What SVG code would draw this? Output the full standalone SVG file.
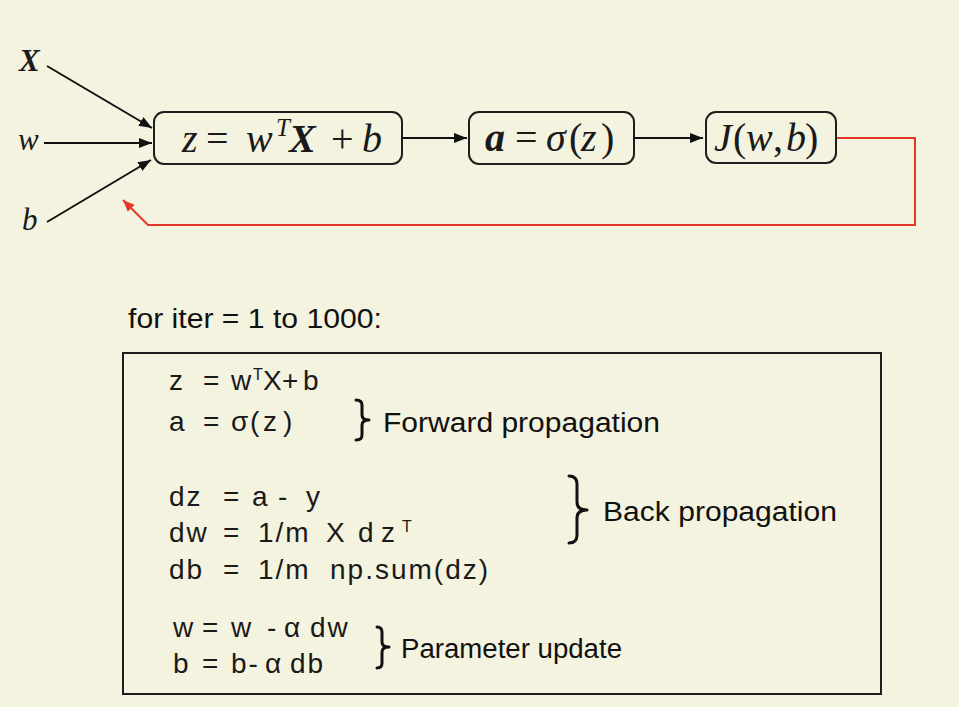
<svg xmlns="http://www.w3.org/2000/svg" width="959" height="707" viewBox="0 0 959 707">
<style>
.bg{fill:#f4f3df}
.box{fill:none;stroke:#1e1e1e;stroke-width:2}
.ln{fill:none;stroke:#111;stroke-width:2}
.red{fill:none;stroke:#e5372a;stroke-width:2}
.math{font-family:"Liberation Serif","Times New Roman",serif;font-style:italic;font-size:40px;fill:#1a1a1a}
.lbl{font-family:"Liberation Serif","Times New Roman",serif;font-style:italic;font-size:31px;fill:#1a1a1a}
.up{font-style:normal}
.bd{font-weight:bold}
.code{font-family:"Liberation Sans",Arial,sans-serif;font-size:28px;letter-spacing:2px;fill:#1a1a1a}
.sup{font-size:16px;letter-spacing:0}
.txt{font-family:"Liberation Sans",Arial,sans-serif;font-size:27px;fill:#111}
.brace{fill:none;stroke:#111;stroke-width:3;stroke-linecap:round;stroke-linejoin:round}
</style>
<defs>
<marker id="ah" markerUnits="userSpaceOnUse" markerWidth="14" markerHeight="12" refX="13" refY="5" orient="auto">
<path d="M0,0 L13,5 L0,10 z" fill="#111"/>
</marker>
<marker id="ahr" markerUnits="userSpaceOnUse" markerWidth="14" markerHeight="12" refX="12" refY="5" orient="auto">
<path d="M0,0 L12,5 L0,10 z" fill="#e5372a"/>
</marker>
</defs>
<rect class="bg" x="0" y="0" width="959" height="707"/>

<g id="connectors">
<line class="ln" x1="47" y1="66" x2="152" y2="128" marker-end="url(#ah)"/>
<line class="ln" x1="44" y1="143" x2="152" y2="143" marker-end="url(#ah)"/>
<line class="ln" x1="47" y1="222" x2="151" y2="160" marker-end="url(#ah)"/>
<line class="ln" x1="402" y1="138" x2="467" y2="138" marker-end="url(#ah)"/>
<line class="ln" x1="634" y1="138" x2="703" y2="138" marker-end="url(#ah)"/>
<path class="red" d="M836,138 H915 V225 H148 L123,200" marker-end="url(#ahr)"/>
</g>

<g id="input-X"><text class="lbl bd" x="19" y="71">X</text></g>
<g id="input-w"><text class="lbl" x="18" y="150">w</text></g>
<g id="input-b"><text class="lbl" x="22" y="230">b</text></g>

<g id="node-z">
<rect class="box" x="154" y="112" width="248" height="52" rx="10"/>
<text class="math"><tspan x="182" y="152">z</tspan><tspan class="up" x="206" y="152">=</tspan><tspan x="246" y="152">w</tspan><tspan x="276" y="136" font-size="25">T</tspan><tspan class="bd" x="289" y="152">X</tspan><tspan class="up" x="331" y="152">+</tspan><tspan x="362" y="152">b</tspan></text>
</g>

<g id="node-a">
<rect class="box" x="469" y="112" width="165" height="52" rx="10"/>
<text class="math"><tspan class="bd" x="485" y="151">a</tspan><tspan class="up" x="515" y="151">=</tspan><tspan x="546" y="151">σ</tspan><tspan class="up" x="569" y="151">(</tspan><tspan x="581" y="151">z</tspan><tspan class="up" x="601" y="151">)</tspan></text>
</g>

<g id="node-J">
<rect class="box" x="706" y="112" width="130" height="51" rx="10"/>
<text class="math"><tspan x="714" y="151">J</tspan><tspan class="up" x="733" y="151">(</tspan><tspan x="746" y="151">w</tspan><tspan class="up" x="773" y="151">,</tspan><tspan x="786" y="151">b</tspan><tspan class="up" x="805" y="151">)</tspan></text>
</g>

<g id="loop">
<text class="txt" x="128" y="328" font-size="25" textLength="254" lengthAdjust="spacingAndGlyphs">for iter = 1 to 1000:</text>
<rect class="box" x="123" y="353" width="758" height="341"/>

<text class="code"><tspan x="169" y="390">z</tspan><tspan x="203" y="390">=</tspan><tspan x="231" y="390">w</tspan><tspan class="sup" x="253" y="380">T</tspan><tspan x="263" y="390">X</tspan><tspan x="282" y="390">+</tspan><tspan x="303" y="390">b</tspan></text>
<text class="code"><tspan x="169" y="431">a</tspan><tspan x="203" y="431">=</tspan><tspan x="231" y="431">σ</tspan><tspan x="250" y="431">(</tspan><tspan x="263" y="431">z</tspan><tspan x="283" y="431">)</tspan></text>
<path class="brace" d="M356,400 Q362,400 362,405 L362,415 Q362,420 369,420 Q362,420 362,425 L362,435 Q362,440 356,440"/>
<text class="txt" x="383" y="432" textLength="277" lengthAdjust="spacingAndGlyphs">Forward propagation</text>

<text class="code"><tspan x="169" y="506">dz</tspan><tspan x="223" y="506">=</tspan><tspan x="252" y="506">a</tspan><tspan x="278" y="506">-</tspan><tspan x="306" y="506">y</tspan></text>
<text class="code"><tspan x="169" y="542">dw</tspan><tspan x="223" y="542">=</tspan><tspan x="258" y="542">1/m</tspan><tspan x="326" y="542">X</tspan><tspan x="358" y="542">d</tspan><tspan x="381" y="542">z</tspan><tspan class="sup" x="402" y="532">T</tspan></text>
<text class="code"><tspan x="169" y="579">db</tspan><tspan x="223" y="579">=</tspan><tspan x="258" y="579">1/m</tspan><tspan x="330" y="579">np.sum(dz)</tspan></text>
<path class="brace" d="M569,476 Q577,476 577,484 L577,502 Q577,510 587,510 Q577,510 577,518 L577,535 Q577,543 569,543"/>
<text class="txt" x="603" y="521" textLength="234" lengthAdjust="spacingAndGlyphs">Back propagation</text>

<text class="code"><tspan x="173" y="637">w</tspan><tspan x="202" y="637">=</tspan><tspan x="231" y="637">w</tspan><tspan x="267" y="637">-</tspan><tspan x="284" y="637">α</tspan><tspan x="310" y="637">dw</tspan></text>
<text class="code"><tspan x="173" y="673">b</tspan><tspan x="202" y="673">=</tspan><tspan x="231" y="673">b-</tspan><tspan x="265" y="673">α</tspan><tspan x="290" y="673">db</tspan></text>
<path class="brace" d="M377,627 Q382,627 382,632 L382,642 Q382,647 389,647 Q382,647 382,652 L382,663 Q382,668 377,668"/>
<text class="txt" x="401" y="658" textLength="221" lengthAdjust="spacingAndGlyphs">Parameter update</text>
</g>
</svg>
